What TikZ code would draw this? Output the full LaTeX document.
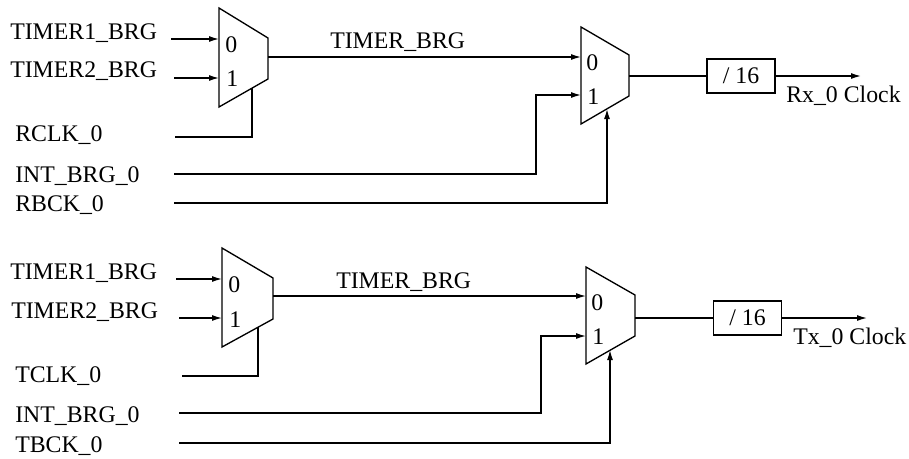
\documentclass[tikz,border=0pt]{standalone}
\usepackage{fontspec}
\setmainfont{Liberation Serif}
\usetikzlibrary{arrows.meta}
\begin{document}
\begin{tikzpicture}[x=0.75pt,y=-0.75pt,
  lbl/.style={anchor=base west, inner sep=0pt, font=\fontsize{17.85}{20}\selectfont},
  wire/.style={draw, line width=1pt},
  arr/.style={wire, -{Latex[length=7.5pt,width=4.5pt]}},
  muxshape/.style={draw, line width=1pt, line join=miter},
  divbox/.style={draw, line width=1pt, inner sep=0pt, minimum width=51pt, minimum height=25.5pt, font=\fontsize{17.85}{20}\selectfont}]
\useasboundingbox (0,0) rectangle (909,458);

% ================= top section =================
% labels
\node[lbl] (t1a) at (10,39) {TIMER1\_BRG};
\node[lbl] (t2a) at (10,77) {TIMER2\_BRG};
\node[lbl] (rclk) at (15,141) {RCLK\_0};
\node[lbl] (inta) at (15,182) {INT\_BRG\_0};
\node[lbl] (rbck) at (15,211) {RBCK\_0};
\node[lbl] (tbrga) at (330,48) {TIMER\_BRG};

% mux 1 (top)
\coordinate (m1tl) at (219,8);
\coordinate (m1tr) at (268,38);
\coordinate (m1br) at (268,79);
\coordinate (m1bl) at (219,107);
\draw[muxshape] (m1tl) -- (m1tr) -- (m1br) -- (m1bl) -- cycle;
\node[lbl] (m1z) at (225,52) {0};
\node[lbl] (m1o) at (226,86) {1};
\coordinate (m1in0) at (219,39);
\coordinate (m1in1) at (219,78);
\coordinate (m1out) at (268,57);
\coordinate (m1sel) at (252,88);

% mux 2 (top)
\coordinate (m2tl) at (581,27);
\coordinate (m2tr) at (629,55);
\coordinate (m2br) at (629,96);
\coordinate (m2bl) at (581,124);
\draw[muxshape] (m2tl) -- (m2tr) -- (m2br) -- (m2bl) -- cycle;
\node[lbl] (m2z) at (586,70) {0};
\node[lbl] (m2o) at (587,104) {1};
\coordinate (m2in0) at (581,57);
\coordinate (m2in1) at (581,95);
\coordinate (m2out) at (629,76);
\coordinate (m2sel) at (607,109);

% divider
\node[divbox] (div1) at (741,76) {/ 16};
\coordinate (rxend) at (861,76);
\node[lbl] (rxl) at (786,102) {Rx\_0 Clock};

% wire start points
\coordinate (t1s) at (171,39);
\coordinate (t2s) at (174,78);
\coordinate (rclks) at (175,137);
\coordinate (ints) at (174,174);
\coordinate (rbcks) at (174,203);

\draw[arr] (t1s) -- (m1in0);
\draw[arr] (t2s) -- (m1in1);
\draw[wire] (rclks) -| (m1sel);
\draw[arr] (m1out) -- (m2in0);
\draw[arr] (ints) -| (536,95) -- (m2in1);
\draw[arr] (rbcks) -| (m2sel);
\draw[wire] (m2out) -- (div1.west);
\draw[arr] (div1.east) -- (rxend);

% ================= bottom section =================
\node[lbl] (t1b) at (10,279) {TIMER1\_BRG};
\node[lbl] (t2b) at (11,318) {TIMER2\_BRG};
\node[lbl] (tclk) at (15,382) {TCLK\_0};
\node[lbl] (intb) at (15,422) {INT\_BRG\_0};
\node[lbl] (tbck) at (15,452) {TBCK\_0};
\node[lbl] (tbrgb) at (336,288) {TIMER\_BRG};

% mux 3
\coordinate (m3tl) at (222,248);
\coordinate (m3tr) at (273,278);
\coordinate (m3br) at (273,319);
\coordinate (m3bl) at (222,347);
\draw[muxshape] (m3tl) -- (m3tr) -- (m3br) -- (m3bl) -- cycle;
\node[lbl] (m3z) at (228,292) {0};
\node[lbl] (m3o) at (229,327) {1};
\coordinate (m3in0) at (222,279);
\coordinate (m3in1) at (222,318);
\coordinate (m3out) at (273,296);
\coordinate (m3sel) at (258,327);

% mux 4
\coordinate (m4tl) at (586,267);
\coordinate (m4tr) at (635,295);
\coordinate (m4br) at (635,336);
\coordinate (m4bl) at (586,364);
\draw[muxshape] (m4tl) -- (m4tr) -- (m4br) -- (m4bl) -- cycle;
\node[lbl] (m4z) at (591,310) {0};
\node[lbl] (m4o) at (592,344) {1};
\coordinate (m4in0) at (586,296);
\coordinate (m4in1) at (586,336);
\coordinate (m4out) at (635,318);
\coordinate (m4sel) at (610,350);

\node[divbox] (div2) at (747.5,318) {/ 16};
\coordinate (txend) at (867,318);
\node[lbl] (txl) at (793,344) {Tx\_0 Clock};

\coordinate (t1bs) at (176,279);
\coordinate (t2bs) at (179,318);
\coordinate (tclks) at (182,376);
\coordinate (intbs) at (179,413);
\coordinate (tbcks) at (179,443);

\draw[arr] (t1bs) -- (m3in0);
\draw[arr] (t2bs) -- (m3in1);
\draw[wire] (tclks) -| (m3sel);
\draw[arr] (m3out) -- (m4in0);
\draw[arr] (intbs) -| (541,336) -- (m4in1);
\draw[arr] (tbcks) -| (m4sel);
\draw[wire] (m4out) -- (div2.west);
\draw[arr] (div2.east) -- (txend);
\end{tikzpicture}
\end{document}
